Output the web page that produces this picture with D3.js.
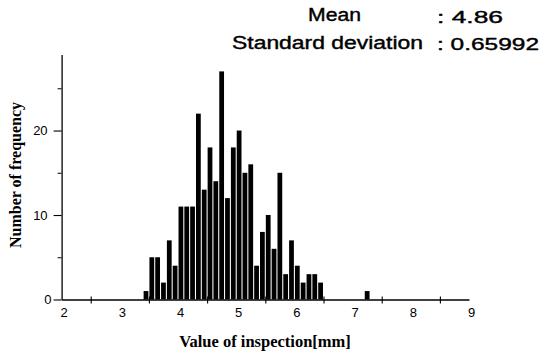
<!DOCTYPE html>
<html>
<head>
<meta charset="utf-8">
<script src="https://cdn.jsdelivr.net/npm/d3@7"></script>
<style>
  html, body { margin: 0; padding: 0; background: #fff; }
  svg { display: block; }
</style>
</head>
<body>
<svg id="chart" width="543" height="357"></svg>
<script>
// ---- data (bin centers, bin width 0.1 mm) ----
const binCenters = [3.45, 3.55, 3.65, 3.75, 3.85, 3.95, 4.05, 4.15, 4.25, 4.35,
                    4.45, 4.55, 4.65, 4.75, 4.85, 4.95, 5.05, 5.15, 5.25, 5.35,
                    5.45, 5.55, 5.65, 5.75, 5.85, 5.95, 6.05, 6.15, 6.25, 6.35,
                    6.45, 7.25];
const frequencies = [1, 5, 5, 2, 7, 4, 11, 11, 11, 22,
                     13, 18, 14, 27, 12, 18, 20, 15, 16, 4,
                     8, 10, 6, 15, 3, 7, 4, 2, 3, 3,
                     2, 1];
const binWidth = 0.1;
const xTickMarks = [2.5, 3.5, 4.5, 5.5, 6.5, 7.5, 8.5];
const xTickLabels = [2, 3, 4, 5, 6, 7, 8, 9];
const yMajorTicks = [0, 10, 20];
const yMinorTicks = [5, 15, 25];
const statLabels = ["Mean", "Standard deviation"];
const statValues = [": 4.86", ": 0.65992"];
const xTitle = "Value of inspection[mm]";
const yTitle = "Number of frequency";

// ---- layout ----
const svg = d3.select("#chart");
const x = d3.scaleLinear().domain([2, 9]).range([61.6, 469]);
const y = d3.scaleLinear().domain([0, 29]).range([299.5, 54.5]);

// bars
const bw = (x(binWidth) - x(0)) * 0.82;
svg.append("g")
  .selectAll("rect")
  .data(binCenters.map((c, i) => ({c, f: frequencies[i]})))
  .join("rect")
  .attr("x", d => x(d.c) - bw / 2)
  .attr("width", bw)
  .attr("y", d => y(d.f))
  .attr("height", d => y(0) - y(d.f))
  .attr("fill", "#000");

// y axis
const tickFont = "'Liberation Sans Narrow', 'Arial Narrow', 'Liberation Sans', sans-serif";
const yAxis = svg.append("g")
  .attr("transform", `translate(${x(2)},0)`)
  .call(d3.axisLeft(y).tickValues(yMajorTicks).tickSize(8).tickSizeOuter(0).tickPadding(6));
yAxis.select(".domain").attr("stroke", "#000").attr("stroke-width", 1.3);
yAxis.selectAll(".tick line").attr("stroke-width", 1.1);
yAxis.selectAll(".tick text")
  .attr("font-family", tickFont).attr("font-size", 13).attr("fill", "#000")
  .attr("dx", d => d === 0 ? 4 : 0);
svg.append("g")
  .attr("transform", `translate(${x(2)},0)`)
  .call(d3.axisLeft(y).tickValues(yMinorTicks).tickSize(4).tickFormat(""))
  .call(g => g.select(".domain").remove());

// x axis
const xAxis = svg.append("g")
  .attr("transform", `translate(0,${y(0)})`)
  .call(d3.axisBottom(x).tickValues(xTickMarks).tickSize(4).tickSizeOuter(0).tickFormat(""));
xAxis.select(".domain").attr("stroke", "#000").attr("stroke-width", 1.3);
xAxis.selectAll(".tick line").attr("y1", -3).attr("stroke-width", 1.1);

const xLab = svg.append("g")
  .attr("transform", `translate(0,${y(0)})`)
  .call(d3.axisBottom(x).tickValues(xTickLabels).tickSize(0).tickPadding(8).tickFormat(d3.format("d")));
xLab.select(".domain").remove();
xLab.selectAll(".tick text")
  .attr("font-family", tickFont).attr("font-size", 13).attr("fill", "#000")
  .attr("dx", 2);

// axis titles
svg.append("text")
  .attr("x", 265).attr("y", 347)
  .attr("text-anchor", "middle")
  .attr("font-family", "'Liberation Serif', 'Times New Roman', serif")
  .attr("font-weight", "bold").attr("font-size", 16.5)
  .text(xTitle);

svg.append("text")
  .attr("transform", "translate(21,175) rotate(-90)")
  .attr("text-anchor", "middle")
  .attr("font-family", "'Liberation Serif', 'Times New Roman', serif")
  .attr("font-weight", "bold").attr("font-size", 16)
  .text(yTitle);

// statistics header
const headFont = "'Liberation Sans', Arial, sans-serif";
const labelPos = [{x: 308, y: 21, w: 53}, {x: 232, y: 49, w: 191}];
const valuePos = [{x: 437, y: 23, w: 66}, {x: 437, y: 50, w: 102}];
statLabels.forEach((t, i) => {
  svg.append("text")
    .attr("x", labelPos[i].x).attr("y", labelPos[i].y)
    .attr("font-family", headFont).attr("font-size", 18)
    .attr("stroke", "#000").attr("stroke-width", 0.4)
    .attr("textLength", labelPos[i].w).attr("lengthAdjust", "spacingAndGlyphs")
    .text(t);
});
statValues.forEach((t, i) => {
  svg.append("text")
    .attr("x", valuePos[i].x).attr("y", valuePos[i].y)
    .attr("font-family", headFont).attr("font-size", 17)
    .attr("stroke", "#000").attr("stroke-width", 0.4)
    .attr("textLength", valuePos[i].w).attr("lengthAdjust", "spacingAndGlyphs")
    .text(t);
});
</script>
</body>
</html>
